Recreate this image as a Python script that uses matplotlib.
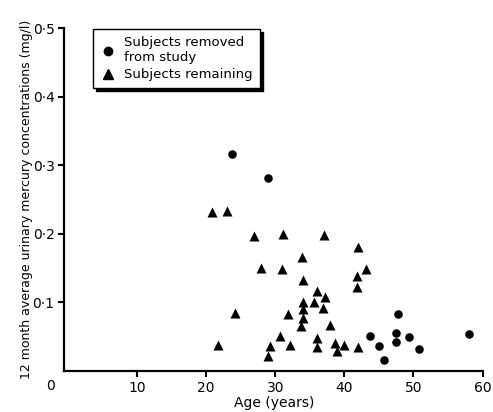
import numpy as np
import matplotlib.pyplot as plt
from matplotlib.lines import Line2D

# subjects removed from study (circles)
edad_removidos = [23.8, 28.9, 47.8, 43.7, 45.0, 45.7, 47.4, 47.4, 49.4, 50.8, 58.0]
hg_removidos = [0.316, 0.281, 0.083, 0.051, 0.036, 0.016, 0.055, 0.042, 0.050, 0.032, 0.054]

# subjects remaining (triangles)
edad_quedan = [20.8, 23.1, 27.0, 31.2, 37.0, 42.0, 33.9, 28.0, 31.0, 43.1,
               34.0, 41.8, 41.8, 36.1, 37.2, 35.6, 34.0, 34.0, 36.9, 24.2,
               31.9, 34.0, 33.8, 37.9, 30.7, 36.1, 21.8, 29.2, 32.2, 36.1,
               38.7, 40.0, 42.0, 39.0, 29.0]
hg_quedan = [0.232, 0.233, 0.197, 0.200, 0.198, 0.181, 0.166, 0.150, 0.149, 0.149,
             0.133, 0.138, 0.122, 0.117, 0.108, 0.101, 0.101, 0.090, 0.092, 0.085,
             0.083, 0.077, 0.066, 0.067, 0.051, 0.048, 0.038, 0.036, 0.038, 0.035,
             0.041, 0.038, 0.035, 0.029, 0.022]

xticks = [10, 20, 30, 40, 50, 60]
yticks = [0.1, 0.2, 0.3, 0.4, 0.5]
ytick_labels = ['0\u00b71', '0\u00b72', '0\u00b73', '0\u00b74', '0\u00b75']

fig = plt.figure(figsize=(4.93, 4.12), dpi=100)
ax = fig.add_axes([0.1304, 0.0995, 0.850, 0.8325])

ax.scatter(edad_removidos, hg_removidos, marker='o', s=38, color='black', linewidths=0)
ax.scatter(edad_quedan, hg_quedan, marker='^', s=52, color='black', linewidths=0)

ax.set_xlim(-0.5, 60.1)
ax.set_ylim(0, 0.5)
ax.set_xticks(xticks)
ax.set_xticklabels([str(t) for t in xticks])
ax.set_yticks(yticks)
ax.set_yticklabels(ytick_labels)
ax.tick_params(direction='out', length=4, width=1.5, labelsize=10, pad=3)

for lado in ['top', 'right']:
    ax.spines[lado].set_visible(False)
for lado in ['left', 'bottom']:
    ax.spines[lado].set_linewidth(1.6)

# origin label
ax.annotate('0', xy=(0, 0), xycoords=('data', 'axes fraction'),
            xytext=(-12.5, -6), textcoords='offset points',
            ha='center', va='top', fontsize=10)

ax.set_xlabel('Age (years)', fontsize=10, labelpad=1)
ax.set_ylabel('12 month average urinary mercury concentrations (mg/l)', fontsize=9, labelpad=0)

handles = [Line2D([], [], marker='o', color='black', linestyle='none', markersize=6),
           Line2D([], [], marker='^', color='black', linestyle='none', markersize=7)]
leg = ax.legend(handles, ['Subjects removed\nfrom study', 'Subjects remaining'],
                loc='upper left', bbox_to_anchor=(93 / 493, 1 - 29 / 412),
                bbox_transform=fig.transFigure, borderaxespad=0,
                fancybox=False, edgecolor='black', framealpha=1,
                shadow={'color': 'black', 'alpha': 1},
                fontsize=9.5, handlelength=1.1, handletextpad=0.7,
                labelspacing=0.3, borderpad=0.55)
leg.get_frame().set_linewidth(1.0)

plt.savefig('out.png', dpi=100)
